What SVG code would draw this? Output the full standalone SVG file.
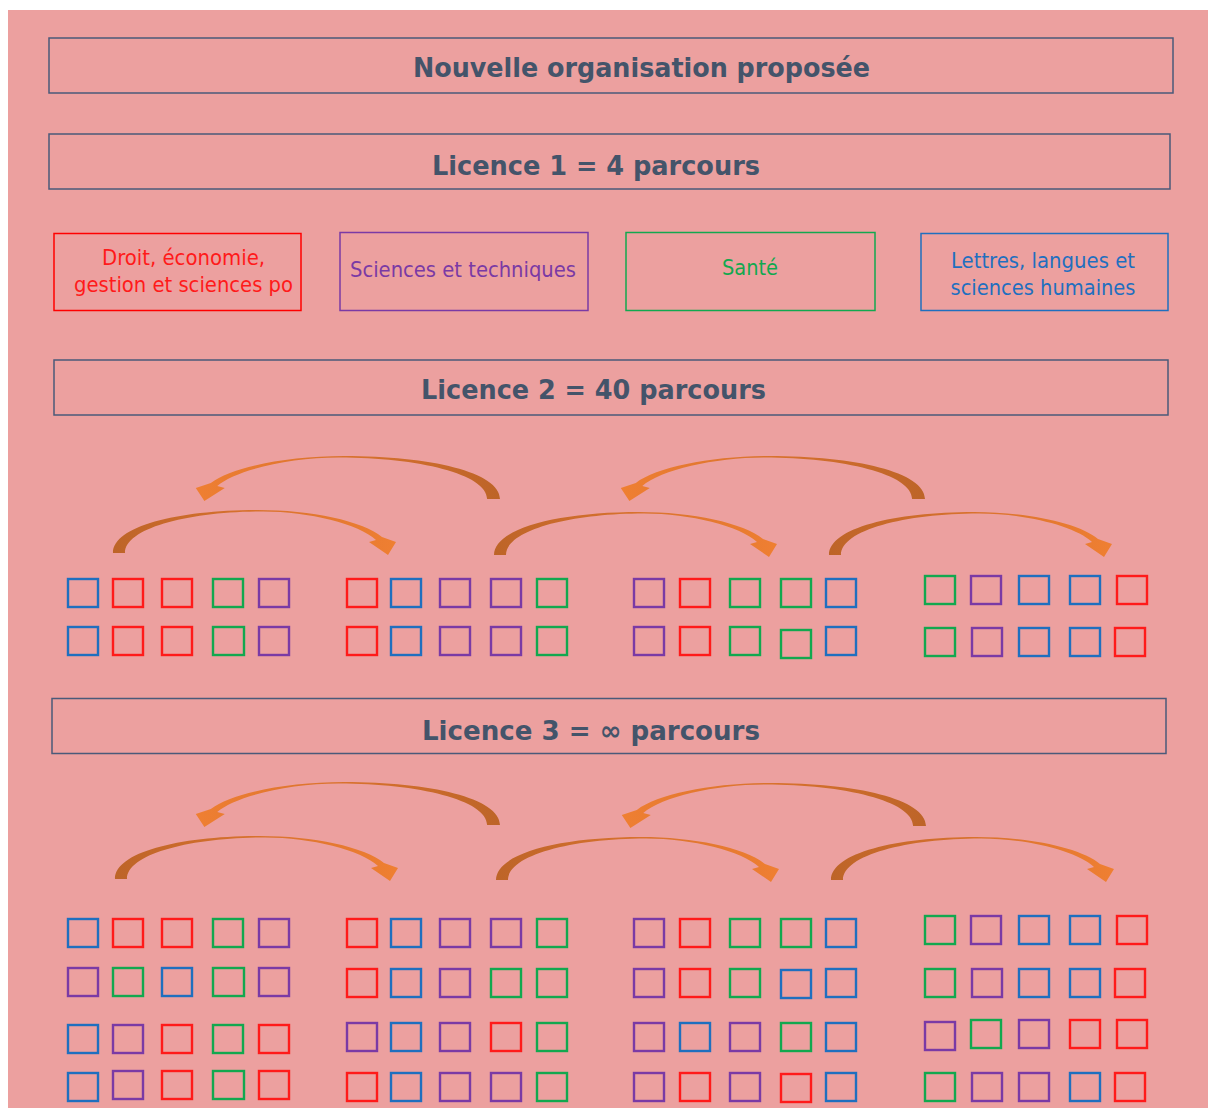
<svg xmlns="http://www.w3.org/2000/svg" width="1208" height="1108" viewBox="0 0 1208 1108">
<style>
.box{fill:none;stroke:#4A5A7A;stroke-width:1.5}
.hd{font-family:"DejaVu Sans Condensed","DejaVu Sans",sans-serif;font-weight:bold;font-size:27px;fill:#44546A;text-anchor:middle}
.tx{font-family:"DejaVu Sans Condensed","DejaVu Sans",sans-serif;font-size:21.5px;text-anchor:middle}
.sq rect{fill:none;stroke-width:2.4;width:30px;height:28px}
.r{stroke:#FF1A1A}
.b{stroke:#1F6FBF}
.g{stroke:#12A84F}
.p{stroke:#7A3AA5}
</style>
<defs>
<linearGradient id="ag" x1="0" y1="0" x2="1" y2="0">
<stop offset="0" stop-color="#BD6428"/>
<stop offset="0.5" stop-color="#D8722E"/>
<stop offset="1" stop-color="#EF7F32"/>
</linearGradient>
<path id="arc" fill="url(#ag)" d="M0,0 C0,-27 65,-43 145,-43 C198,-43 250,-32 269,-16 L283,-11 L275,2 L256,-11 L263,-13 C246,-29 196,-41.5 150,-41.5 C76,-41.5 12,-25 12,0 Z"/>
</defs>
<rect x="8" y="10" width="1200" height="1098" fill="#ECA09F"/>

<g id="titre">
<rect class="box" x="49" y="38" width="1124" height="55"/>
<text class="hd" x="641.5" y="77" textLength="457" lengthAdjust="spacingAndGlyphs">Nouvelle organisation proposée</text>
</g>
<g id="licence1">
<rect class="box" x="49" y="134" width="1121" height="55"/>
<text class="hd" x="596" y="175" textLength="328" lengthAdjust="spacingAndGlyphs">Licence 1 = 4 parcours</text>
</g>
<g id="droit">
<rect x="54" y="233.5" width="247" height="77" fill="none" stroke="#FF0000" stroke-width="1.5"/>
<text class="tx" fill="#FF1A1A" x="183.5" y="265" textLength="163" lengthAdjust="spacingAndGlyphs">Droit, économie,</text>
<text class="tx" fill="#FF1A1A" x="183.5" y="292" textLength="219" lengthAdjust="spacingAndGlyphs">gestion et sciences po</text>
</g>
<g id="sciences">
<rect x="340" y="232.5" width="248" height="78" fill="none" stroke="#7A3AA5" stroke-width="1.5"/>
<text class="tx" fill="#7A3AA5" x="463" y="277" textLength="226" lengthAdjust="spacingAndGlyphs">Sciences et techniques</text>
</g>
<g id="sante">
<rect x="626" y="232.5" width="249" height="78" fill="none" stroke="#12A84F" stroke-width="1.5"/>
<text class="tx" fill="#12A84F" x="750" y="275" textLength="56" lengthAdjust="spacingAndGlyphs">Santé</text>
</g>
<g id="lettres">
<rect x="921" y="233.5" width="247" height="77" fill="none" stroke="#1F6FBF" stroke-width="1.5"/>
<text class="tx" fill="#1F6FBF" x="1043" y="268" textLength="184" lengthAdjust="spacingAndGlyphs">Lettres, langues et</text>
<text class="tx" fill="#1F6FBF" x="1043" y="295" textLength="185" lengthAdjust="spacingAndGlyphs">sciences humaines</text>
</g>
<g id="licence2">
<rect class="box" x="54" y="360" width="1114" height="55"/>
<text class="hd" x="593.5" y="399" textLength="345" lengthAdjust="spacingAndGlyphs">Licence 2 = 40 parcours</text>
</g>
<g id="licence3">
<rect class="box" x="52" y="698.5" width="1114" height="55"/>
<text class="hd" x="591" y="740" textLength="338" lengthAdjust="spacingAndGlyphs">Licence 3 = ∞ parcours</text>
</g>

<g id="connecteurs">
<use href="#arc" transform="translate(500,499) scale(-1.075,1)"/>
<use href="#arc" transform="translate(925,499) scale(-1.075,1)"/>
<use href="#arc" transform="translate(113,553)"/>
<use href="#arc" transform="translate(494,555)"/>
<use href="#arc" transform="translate(829,555)"/>
<use href="#arc" transform="translate(500,825) scale(-1.075,1)"/>
<use href="#arc" transform="translate(926,826) scale(-1.075,1)"/>
<use href="#arc" transform="translate(115,879)"/>
<use href="#arc" transform="translate(496,880)"/>
<use href="#arc" transform="translate(831,880)"/>
</g>

<g id="l2-groupe1" class="sq">
<rect class="b" x="68" y="579"/><rect class="r" x="113" y="579"/><rect class="r" x="162" y="579"/><rect class="g" x="213" y="579"/><rect class="p" x="259" y="579"/>
<rect class="b" x="68" y="627"/><rect class="r" x="113" y="627"/><rect class="r" x="162" y="627"/><rect class="g" x="213" y="627" style="width:31px"/><rect class="p" x="259" y="627"/>
</g>
<g id="l2-groupe2" class="sq">
<rect class="r" x="347" y="579"/><rect class="b" x="391" y="579"/><rect class="p" x="440" y="579"/><rect class="p" x="491" y="579"/><rect class="g" x="537" y="579"/>
<rect class="r" x="347" y="627"/><rect class="b" x="391" y="627"/><rect class="p" x="440" y="627"/><rect class="p" x="491" y="627"/><rect class="g" x="537" y="627"/>
</g>
<g id="l2-groupe3" class="sq">
<rect class="p" x="634" y="579"/><rect class="r" x="680" y="579"/><rect class="g" x="730" y="579"/><rect class="g" x="781" y="579"/><rect class="b" x="826" y="579"/>
<rect class="p" x="634" y="627"/><rect class="r" x="680" y="627"/><rect class="g" x="730" y="627"/><rect class="g" x="781" y="630"/><rect class="b" x="826" y="627"/>
</g>
<g id="l2-groupe4" class="sq">
<rect class="g" x="925" y="576"/><rect class="p" x="971" y="576"/><rect class="b" x="1019" y="576"/><rect class="b" x="1070" y="576"/><rect class="r" x="1117" y="576"/>
<rect class="g" x="925" y="628"/><rect class="p" x="972" y="628"/><rect class="b" x="1019" y="628"/><rect class="b" x="1070" y="628"/><rect class="r" x="1115" y="628"/>
</g>

<g id="l3-groupe1" class="sq">
<rect class="b" x="68" y="919"/><rect class="r" x="113" y="919"/><rect class="r" x="162" y="919"/><rect class="g" x="213" y="919"/><rect class="p" x="259" y="919"/>
<rect class="p" x="68" y="968"/><rect class="g" x="113" y="968"/><rect class="b" x="162" y="968"/><rect class="g" x="213" y="968" style="width:31px"/><rect class="p" x="259" y="968"/>
<rect class="b" x="68" y="1025"/><rect class="p" x="113" y="1025"/><rect class="r" x="162" y="1025"/><rect class="g" x="213" y="1025"/><rect class="r" x="259" y="1025"/>
<rect class="b" x="68" y="1073"/><rect class="p" x="113" y="1071"/><rect class="r" x="162" y="1071"/><rect class="g" x="213" y="1071" style="width:31px"/><rect class="r" x="259" y="1071"/>
</g>
<g id="l3-groupe2" class="sq">
<rect class="r" x="347" y="919"/><rect class="b" x="391" y="919"/><rect class="p" x="440" y="919"/><rect class="p" x="491" y="919"/><rect class="g" x="537" y="919"/>
<rect class="r" x="347" y="969"/><rect class="b" x="391" y="969"/><rect class="p" x="440" y="969"/><rect class="g" x="491" y="969"/><rect class="g" x="537" y="969"/>
<rect class="p" x="347" y="1023"/><rect class="b" x="391" y="1023"/><rect class="p" x="440" y="1023"/><rect class="r" x="491" y="1023"/><rect class="g" x="537" y="1023"/>
<rect class="r" x="347" y="1073"/><rect class="b" x="391" y="1073"/><rect class="p" x="440" y="1073"/><rect class="p" x="491" y="1073"/><rect class="g" x="537" y="1073"/>
</g>
<g id="l3-groupe3" class="sq">
<rect class="p" x="634" y="919"/><rect class="r" x="680" y="919"/><rect class="g" x="730" y="919"/><rect class="g" x="781" y="919"/><rect class="b" x="826" y="919"/>
<rect class="p" x="634" y="969"/><rect class="r" x="680" y="969"/><rect class="g" x="730" y="969"/><rect class="b" x="781" y="970"/><rect class="b" x="826" y="969"/>
<rect class="p" x="634" y="1023"/><rect class="b" x="680" y="1023"/><rect class="p" x="730" y="1023"/><rect class="g" x="781" y="1023"/><rect class="b" x="826" y="1023"/>
<rect class="p" x="634" y="1073"/><rect class="r" x="680" y="1073"/><rect class="p" x="730" y="1073"/><rect class="r" x="781" y="1074"/><rect class="b" x="826" y="1073"/>
</g>
<g id="l3-groupe4" class="sq">
<rect class="g" x="925" y="916"/><rect class="p" x="971" y="916"/><rect class="b" x="1019" y="916"/><rect class="b" x="1070" y="916"/><rect class="r" x="1117" y="916"/>
<rect class="g" x="925" y="969"/><rect class="p" x="972" y="969"/><rect class="b" x="1019" y="969"/><rect class="b" x="1070" y="969"/><rect class="r" x="1115" y="969"/>
<rect class="p" x="925" y="1022"/><rect class="g" x="971" y="1020"/><rect class="p" x="1019" y="1020"/><rect class="r" x="1070" y="1020"/><rect class="r" x="1117" y="1020"/>
<rect class="g" x="925" y="1073"/><rect class="p" x="972" y="1073"/><rect class="p" x="1019" y="1073"/><rect class="b" x="1070" y="1073"/><rect class="r" x="1115" y="1073"/>
</g>
</svg>
